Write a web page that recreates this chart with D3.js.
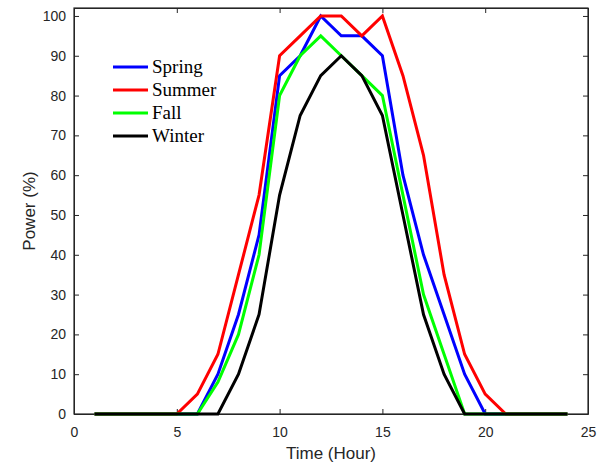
<!DOCTYPE html>
<html>
<head>
  <meta charset="utf-8">
  <script src="https://d3js.org/d3.v7.min.js"></script>
  <style>
    body { margin: 0; background: #fff; }
    .tick text { font-family: Arial, "Liberation Sans", sans-serif; font-size: 14px; fill: #262626; }
    .axis-label { font-family: Arial, "Liberation Sans", sans-serif; font-size: 17px; fill: #262626; }
    .legend text { font-family: "Times New Roman", "Liberation Serif", serif; font-size: 19px; fill: #000; }
  </style>
</head>
<body>
<script>
  // hours 1..24
  var hours = d3.range(1, 25);
  var spring = [0, 0, 0, 0, 0, 0, 10, 25, 45, 85, 90, 100, 95, 95, 90, 60, 40, 25, 10, 0, 0, 0, 0, 0];
  var summer = [0, 0, 0, 0, 0, 5, 15, 35, 55, 90, 95, 100, 100, 95, 100, 85, 65, 35, 15, 5, 0, 0, 0, 0];
  var fall   = [0, 0, 0, 0, 0, 0, 8, 20, 40, 80, 90, 95, 90, 85, 80, 55, 30, 15, 0, 0, 0, 0, 0, 0];
  var winter = [0, 0, 0, 0, 0, 0, 0, 10, 25, 55, 75, 85, 90, 85, 75, 50, 25, 10, 0, 0, 0, 0, 0, 0];
  var seriesNames = ["Spring", "Summer", "Fall", "Winter"];
  var seriesColors = ["#0000ff", "#ff0000", "#00ff00", "#000000"];
  var xTicks = [0, 5, 10, 15, 20, 25];
  var yTicks = [0, 10, 20, 30, 40, 50, 60, 70, 80, 90, 100];

  (function() {
    var W = 604, H = 467;
    var mLeft = 74, mRight = 588, mTop = 8, mBottom = 414;

    var svg = d3.select("body").append("svg")
      .attr("width", W).attr("height", H);

    var x = d3.scaleLinear().domain([0, 25]).range([mLeft, mRight]);
    var y = d3.scaleLinear().domain([0, 102]).range([mBottom, mTop]);

    var axisColor = "#262626";

    // axes with inward ticks, box on
    var gx = svg.append("g").attr("transform", "translate(0," + mBottom + ")")
      .call(d3.axisBottom(x).tickValues(xTicks).tickSizeInner(-5).tickSizeOuter(0).tickPadding(13));
    var gxTop = svg.append("g").attr("transform", "translate(0," + mTop + ")")
      .call(d3.axisTop(x).tickValues(xTicks).tickSizeInner(-5).tickSizeOuter(0).tickFormat(""));
    var gy = svg.append("g").attr("transform", "translate(" + mLeft + ",0)")
      .call(d3.axisLeft(y).tickValues(yTicks).tickSizeInner(-5).tickSizeOuter(0).tickPadding(8));
    var gyRight = svg.append("g").attr("transform", "translate(" + mRight + ",0)")
      .call(d3.axisRight(y).tickValues(yTicks).tickSizeInner(-5).tickSizeOuter(0).tickFormat(""));

    [gx, gxTop, gy, gyRight].forEach(function(g) {
      g.selectAll("path, line").attr("stroke", axisColor);
    });

    svg.append("rect")
      .attr("x", mLeft).attr("y", mTop)
      .attr("width", mRight - mLeft).attr("height", mBottom - mTop)
      .attr("fill", "none").attr("stroke", axisColor).attr("stroke-width", 1.2);

    svg.append("text").attr("class", "axis-label")
      .attr("x", (mLeft + mRight) / 2).attr("y", 459)
      .attr("text-anchor", "middle").text("Time (Hour)");

    svg.append("text").attr("class", "axis-label")
      .attr("transform", "translate(35," + ((mTop + mBottom) / 2) + ") rotate(-90)")
      .attr("text-anchor", "middle").text("Power (%)");

    var allData = [spring, summer, fall, winter];
    var line = d3.line()
      .x(function(d, i) { return x(hours[i]); })
      .y(function(d) { return y(d); });

    allData.forEach(function(vals, k) {
      svg.append("path")
        .datum(vals)
        .attr("fill", "none")
        .attr("stroke", seriesColors[k])
        .attr("stroke-width", 3)
        .attr("d", line);
    });

    var legend = svg.append("g").attr("class", "legend")
      .selectAll("g").data(seriesNames).enter().append("g")
      .attr("transform", function(d, i) { return "translate(113," + (67 + i * 23) + ")"; });

    legend.append("line")
      .attr("x1", 0).attr("x2", 35).attr("y1", 0).attr("y2", 0)
      .attr("stroke", function(d, i) { return seriesColors[i]; })
      .attr("stroke-width", 3);

    legend.append("text")
      .attr("x", 39).attr("y", 6)
      .text(function(d) { return d; });
  })();
</script>
</body>
</html>
